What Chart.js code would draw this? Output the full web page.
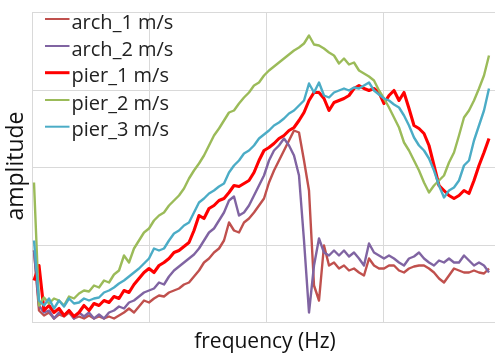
<!DOCTYPE html>
<html><head><meta charset="utf-8">
<script src="https://cdn.jsdelivr.net/npm/chart.js@4/dist/chart.umd.min.js"></script>
<style>
html,body{margin:0;padding:0;background:#fff;overflow:hidden;width:495px;height:354px}
#wrap{width:500px;height:354px;position:relative}
</style></head>
<body><div id="wrap"><canvas id="c" width="500" height="354"></canvas></div>
<script>
// ---- data (arbitrary units) ----
const seriesNames = ["arch_1 m/s", "arch_2 m/s", "pier_1 m/s", "pier_2 m/s", "pier_3 m/s"];
const seriesColors = ["#C0504D", "#8064A2", "#FF0000", "#9BBB59", "#4BACC6"];
const FREQ_START = 2, FREQ_STEP = 5;   // sampling of the frequency axis
const xGridTicks = [0, 117, 234, 351, 468];
const yGridTicks = [0, 77.5, 155, 232.5, 310];

const arch_1 = [72,12,7,10,4,8,6,10,4,6, 4,7,4,6,4,6,4,7,10,14, 10,16,22,20,24,27,26,30,32,34,
  38,40,46,52,60,64,70,74,82,100, 92,90,100,104,110,117,124,140,152,162, 172,182,192,190,162,132,37,22,77,57,
  60,54,57,52,54,50,47,64,57,54, 54,57,57,52,50,54,56,57,57,54, 50,44,40,47,54,52,50,50,52,50, 49,54];
const arch_2 = [72,17,10,12,4,10,7,12,4,10, 6,10,4,8,4,10,12,16,14,20, 22,26,30,32,34,40,38,46,52,56,
  60,64,68,74,82,90,94,102,110,122, 126,107,110,117,127,137,147,162,172,177, 184,177,167,147,82,10,57,84,70,67,
  72,67,72,66,70,64,57,79,70,67, 64,67,64,60,57,64,66,70,64,60, 57,62,60,64,60,60,67,62,57,60, 57,50];
const pier_1 = [42,57,12,17,10,14,7,12,6,10, 17,12,19,17,22,20,26,24,32,30, 38,44,50,54,50,57,60,64,70,72,
  76,80,92,107,104,114,117,122,124,130, 137,136,139,142,150,162,172,175,179,184, 187,192,195,202,210,222,230,230,224,212,
  220,222,224,227,234,237,234,232,234,230, 219,227,232,222,230,214,197,194,189,177, 157,137,132,127,124,127,132,129,142,157, 170,184];
const pier_2 = [140,17,25,19,24,22,17,26,24,29, 32,31,37,35,42,40,48,52,67,60, 74,82,90,94,102,107,110,117,122,127,
  134,144,152,159,167,177,187,194,202,210, 212,219,225,230,237,240,247,252,256,260, 264,268,272,275,279,287,278,277,274,270,
  267,259,264,258,260,252,249,246,242,232, 224,215,205,195,180,172,162,152,140,130, 137,142,147,160,170,187,205,212,222,234, 247,267];
const pier_3 = [82,22,17,24,14,22,16,24,19,20, 24,22,24,25,30,32,35,39,42,46, 50,54,59,64,74,72,74,82,89,92,
  97,100,110,120,124,129,132,136,139,150, 157,162,169,172,177,184,188,192,197,200, 204,209,212,217,222,239,230,240,227,225,
  230,232,234,232,235,234,237,240,232,228, 224,222,218,215,207,197,185,177,172,164, 152,137,125,132,135,142,157,162,182,197, 212,234];

const seriesValues = [arch_1, arch_2, pier_1, pier_2, pier_3];
const seriesWidths = [2.4, 2.4, 3.1, 2.4, 2.4];
const frequency = arch_1.map((_, i) => FREQ_START + i * FREQ_STEP);

const FONT = "'Open Sans', 'DejaVu Sans', sans-serif";
const GRID = "#d9d9d9";

const datasets = seriesValues.map((vals, k) => ({
  label: seriesNames[k],
  data: vals.map((v, i) => ({ x: frequency[i], y: v })),
  borderColor: seriesColors[k],
  backgroundColor: seriesColors[k],
  borderWidth: seriesWidths[k],
  pointRadius: 0,
  tension: 0,
  fill: false,
  order: seriesNames.length - k,
  borderJoinStyle: "round"
}));

const overlay = {
  id: "overlay",
  afterDraw(chart) {
    const ctx = chart.ctx;
    ctx.save();
    // legend
    ctx.font = "20px " + FONT;
    ctx.textBaseline = "alphabetic";
    ctx.textAlign = "left";
    const rowY = [19, 46, 72.7, 100, 126.7];
    seriesNames.forEach((name, k) => {
      const y = rowY[k];
      ctx.strokeStyle = seriesColors[k];
      ctx.lineWidth = k === 2 ? 3 : 2;
      ctx.beginPath(); ctx.moveTo(45, y); ctx.lineTo(69.5, y); ctx.stroke();
      ctx.fillStyle = "#222";
      ctx.fillText(name, 71.5, y + 9.5);
    });
    // axis titles
    ctx.fillStyle = "#111";
    ctx.font = "21px " + FONT;
    ctx.textAlign = "center";
    ctx.fillText("frequency (Hz)", 265, 348);
    ctx.save();
    ctx.translate(23, 166);
    ctx.rotate(-Math.PI / 2);
    ctx.font = "23px " + FONT;
    ctx.fillText("amplitude", 0, 0);
    ctx.restore();
    ctx.restore();
  }
};

new Chart(document.getElementById("c"), {
  type: "line",
  data: { datasets },
  options: {
    responsive: false,
    devicePixelRatio: 1,
    animation: false,
    layout: { padding: { left: 32, top: 12.5, right: 0, bottom: 31.5 } },
    plugins: { legend: { display: false }, tooltip: { enabled: false } },
    scales: {
      x: {
        type: "linear", min: 0, max: 468,
        afterBuildTicks: s => { s.ticks = xGridTicks.map(v => ({ value: v })); },
        ticks: { display: false },
        grid: { color: GRID, drawTicks: false, lineWidth: 1 },
        border: { display: true, color: GRID }
      },
      y: {
        type: "linear", min: 0, max: 310,
        afterBuildTicks: s => { s.ticks = yGridTicks.map(v => ({ value: v })); },
        ticks: { display: false },
        grid: { color: GRID, drawTicks: false, lineWidth: 1 },
        border: { display: true, color: GRID }
      }
    }
  },
  plugins: [overlay]
});
</script>
</body></html>
